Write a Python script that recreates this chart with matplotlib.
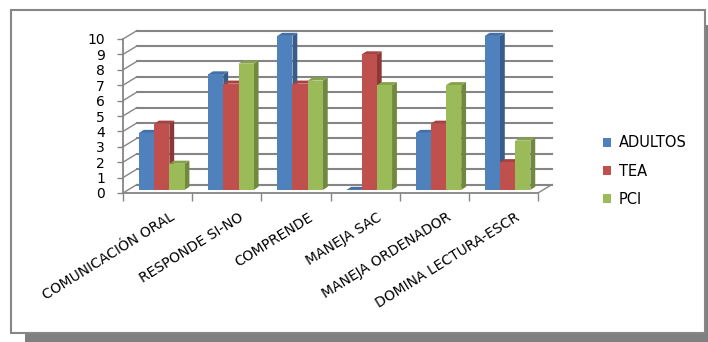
import matplotlib
matplotlib.use("Agg")
import matplotlib.pyplot as plt
from matplotlib.patches import Polygon, Rectangle

# ---------------- data ----------------
categories = ["COMUNICACIÓN ORAL", "RESPONDE SI-NO", "COMPRENDE",
              "MANEJA SAC", "MANEJA ORDENADOR", "DOMINA LECTURA-ESCR"]
series_names = ["ADULTOS", "TEA", "PCI"]
adultos = [3.7, 7.5, 10, 0, 3.7, 10]
tea = [4.3, 6.9, 6.9, 8.8, 4.3, 1.8]
pci = [1.7, 8.2, 7.1, 6.8, 6.8, 3.2]
y_ticks = list(range(11))

front_colors = ["#4F81BD", "#C0504D", "#9BBB59"]
side_colors = ["#385D8A", "#8C3836", "#71893F"]
top_colors = ["#4370A8", "#A7423F", "#86A14A"]
grid_color = "#858585"

W, H = 708, 342
fig = plt.figure(figsize=(W / 100, H / 100), dpi=100)

# shadow and chart frame (behind the axes)
fig.patches.append(Rectangle((25 / W, 0), (W - 25) / W, (H - 25) / H,
                             transform=fig.transFigure, facecolor="#808080",
                             edgecolor="none", zorder=-2))
fig.patches.append(Rectangle((11 / W, 9 / H), 694 / W, 323 / H,
                             transform=fig.transFigure, facecolor="white",
                             edgecolor="#868686", lw=1.5, zorder=-1))

# axes placement (front plane: x=0 at px 123, x=6 at px 538; y=0 at px 193, y=10 at px 39)
px_x = (538 - 123) / 6
px_y = (193 - 39) / 10
xmax, ymax = 6.35, 10.8
ax = fig.add_axes([123 / W, (H - 193) / H, xmax * px_x / W, ymax * px_y / H])
ax.set_xlim(0, xmax)
ax.set_ylim(0, ymax)
ax.patch.set_visible(False)

# back wall offset (pseudo 3D)
wx = 14 / px_x
wy = 8.5 / px_y
n = len(categories)

for v in y_ticks:
    ax.plot([wx, n + wx], [v + wy, v + wy], color=grid_color, lw=1.5, zorder=1)
    ax.plot([0, wx], [v, v + wy], color=grid_color, lw=1.0, zorder=1)
ax.plot([n, n + wx], [0, wy], color=grid_color, lw=1.0, zorder=1)

for side in ["top", "right"]:
    ax.spines[side].set_visible(False)
ax.spines["left"].set_bounds(0, 10)
ax.spines["bottom"].set_bounds(0, n)
for side in ["left", "bottom"]:
    ax.spines[side].set_color(grid_color)
    ax.spines[side].set_linewidth(1.3)

ax.set_yticks(y_ticks)
ax.tick_params(axis="y", length=4, width=1, color=grid_color, pad=9, labelsize=10)
ax.set_xticks(range(n + 1))
ax.set_xticklabels([])
ax.tick_params(axis="x", length=6, width=1, color=grid_color)

# category labels
for i, c in enumerate(categories):
    ax.text(i + 0.5 + 0.17, -1.1, c, rotation=32, rotation_mode="anchor",
            ha="right", va="top", fontsize=10, clip_on=False)

# bars with side and top faces
bw = 0.22
ox, oy = 0.06, 0.2      # front face offset into depth
bdx, bdy = 0.07, 0.2    # bar depth
for s, vals in enumerate([adultos, tea, pci]):
    z = 3 + s
    for i, v in enumerate(vals):
        x0 = i + 0.5 - 1.5 * bw + s * bw + ox
        y1 = oy + v
        ax.add_patch(Polygon([(x0 + bw, oy), (x0 + bw, y1), (x0 + bw + bdx, y1 + bdy),
                              (x0 + bw + bdx, oy + bdy)], closed=True,
                             facecolor=side_colors[s], edgecolor="none", zorder=z))
        ax.add_patch(Polygon([(x0, y1), (x0 + bw, y1), (x0 + bw + bdx, y1 + bdy),
                              (x0 + bdx, y1 + bdy)], closed=True,
                             facecolor=top_colors[s], edgecolor="none", zorder=z))
    xs = [i + 0.5 - 1.5 * bw + s * bw + ox for i in range(n)]
    ax.bar(xs, vals, bw, bottom=oy, align="edge", color=front_colors[s],
           edgecolor="none", zorder=z)

# legend
handles = [Rectangle((0, 0), 1, 1, facecolor=c) for c in front_colors]
fig.legend(handles, series_names, loc="center left",
           bbox_to_anchor=(596 / W, 1 - 171 / H), frameon=False, fontsize=10.5,
           handlelength=0.55, handleheight=0.55, handletextpad=0.5,
           labelspacing=0.9, borderpad=0)

fig.savefig("out.png", dpi=100)
